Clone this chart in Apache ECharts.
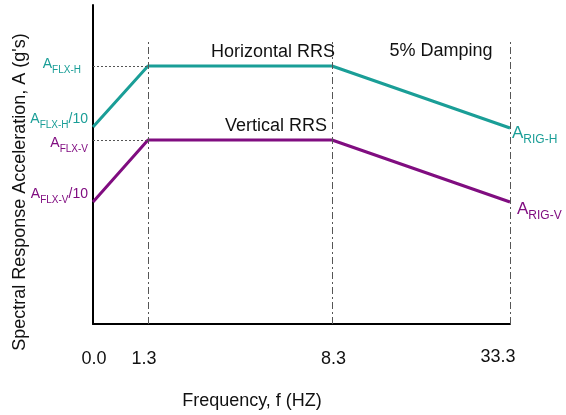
<!DOCTYPE html>
<html>
<head>
<meta charset="utf-8">
<script src="https://cdn.jsdelivr.net/npm/echarts@6/dist/echarts.min.js"></script>
<style>html,body{margin:0;padding:0;background:#fff}#c{width:566px;height:415px}</style>
</head>
<body>
<div id="c"></div>
<script>
// Frequency tick labels and their schematic positions along the (non-linear) axis
const freqLabels = ['0.0', '1.3', '8.3', '33.3'];
const xPos = [0, 55, 239, 417];
// Spectral acceleration curves (schematic units)
const horizontal = [197, 258, 258, 196];
const vertical = [122, 184, 184, 122];
// Y level labels
const yLevels = [258, 197, 184, 122];
const yLevelNames = [['A', 'FLX-H', ''], ['A', 'FLX-H', '/10'], ['A', 'FLX-V', ''], ['A', 'FLX-V', '/10']];
const yLevelSeries = ['h', 'h', 'v', 'v'];
const dashTop = 282;
const yMax = 319;

const TEAL = '#1a9e97';
const PURPLE = '#800d80';
const FONT = 'Liberation Sans, Arial, sans-serif';

const rich = {
  ah: { color: TEAL, fontSize: 14, fontFamily: FONT, lineHeight: 20, verticalAlign: 'bottom' },
  sh: { color: TEAL, fontSize: 10, fontFamily: FONT, lineHeight: 20, verticalAlign: 'bottom', padding: [0, 0, -4, 0] },
  av: { color: PURPLE, fontSize: 14, fontFamily: FONT, lineHeight: 20, verticalAlign: 'bottom' },
  sv: { color: PURPLE, fontSize: 10, fontFamily: FONT, lineHeight: 20, verticalAlign: 'bottom', padding: [0, 0, -4, 0] },
  bh: { color: TEAL, fontSize: 17, fontFamily: FONT, lineHeight: 22, verticalAlign: 'bottom' },
  ch: { color: TEAL, fontSize: 12, fontFamily: FONT, lineHeight: 22, verticalAlign: 'bottom', padding: [0, 0, -4, 0] },
  bv: { color: PURPLE, fontSize: 17, fontFamily: FONT, lineHeight: 22, verticalAlign: 'bottom' },
  cv: { color: PURPLE, fontSize: 12, fontFamily: FONT, lineHeight: 22, verticalAlign: 'bottom', padding: [0, 0, -4, 0] },
  g10: { fontSize: 4, lineHeight: 10 },
  g22: { fontSize: 4, lineHeight: 22 },
  sp: { fontSize: 4, width: 7 }
};
// per-label layout tweaks for the y labels (gap below shifts the label up)
const yLabelGap = ['g10', 'g22', '', 'g22'];
const yLabelPad = [true, false, false, false];

const tickRich = {
  t0: { fontSize: 18, fontFamily: FONT, color: '#111', lineHeight: 18, padding: [12, 0, 0, 2] },
  t1: { fontSize: 18, fontFamily: FONT, color: '#111', lineHeight: 18, padding: [12, 8, 0, 0] },
  t2: { fontSize: 18, fontFamily: FONT, color: '#111', lineHeight: 18, padding: [12, 0, 0, 3] },
  t3: { fontSize: 18, fontFamily: FONT, color: '#111', lineHeight: 18, padding: [8, 24, 0, 0] }
};

function pts(ys) { return ys.map((y, i) => [xPos[i], y]); }

const chart = echarts.init(document.getElementById('c'), null, { renderer: 'canvas' });
chart.setOption({
  animation: false,
  backgroundColor: '#fff',
  grid: { left: 93, right: 56, top: 5, bottom: 91 },
  xAxis: {
    type: 'value', min: 0, max: xPos[xPos.length - 1],
    splitLine: { show: false },
    axisLine: { lineStyle: { color: '#000', width: 2 } },
    axisTick: { show: false },
    axisLabel: {
      customValues: xPos,
      margin: 20,
      verticalAlign: 'top',
      rich: tickRich,
      formatter: v => {
        const i = xPos.indexOf(v);
        return i < 0 ? '' : '{t' + i + '|' + freqLabels[i] + '}';
      }
    }
  },
  yAxis: {
    type: 'value', min: 0, max: yMax,
    splitLine: { show: false },
    axisLine: { show: true, lineStyle: { color: '#000', width: 2 } },
    axisTick: { show: false },
    axisLabel: {
      customValues: yLevels,
      margin: 5,
      rich: rich,
      formatter: v => {
        const i = yLevels.indexOf(v);
        if (i < 0) return '';
        const s = yLevelSeries[i];
        const n = yLevelNames[i];
        let t = '{a' + s + '|' + n[0] + '}{s' + s + '|' + n[1] + '}' + (n[2] ? '{a' + s + '|' + n[2] + '}' : '');
        if (yLabelPad[i]) t += '{sp| }';
        if (yLabelGap[i]) t += '\n{' + yLabelGap[i] + '| }';
        return t;
      }
    }
  },
  graphic: [
    { type: 'text', x: 20, y: 192, rotation: Math.PI / 2,
      style: { text: "Spectral Response Acceleration, A (g's)", fill: '#111', font: '18px ' + FONT, textAlign: 'center', textVerticalAlign: 'middle' } },
    { type: 'text', x: 252, y: 401,
      style: { text: 'Frequency, f (HZ)', fill: '#111', font: '18px ' + FONT, textAlign: 'center', textVerticalAlign: 'middle' } },
    { type: 'text', x: 441, y: 51,
      style: { text: '5% Damping', fill: '#111', font: '18px ' + FONT, textAlign: 'center', textVerticalAlign: 'middle' } }
  ],
  series: [
    {
      type: 'line', data: pts(horizontal), symbol: 'none',
      lineStyle: { color: TEAL, width: 3 },
      endLabel: {
        show: true, distance: 2, offset: [0, 3],
        formatter: '{bh|A}{ch|RIG-H}', rich: rich
      },
      markPoint: {
        symbol: 'circle', symbolSize: 0,
        data: [{ coord: [xPos[2], horizontal[2]] }],
        label: { show: true, formatter: 'Horizontal RRS', position: 'top', align: 'right', distance: 5, offset: [3, 0], color: '#111', fontSize: 18, fontFamily: FONT }
      },
      markLine: {
        silent: true, symbol: 'none', label: { show: false },
        lineStyle: { color: '#555', type: [2, 2], width: 1 },
        data: [
          [{ coord: [xPos[0], horizontal[1]] }, { coord: [xPos[1], horizontal[1]] }],
          [{ coord: [xPos[0], vertical[1]] }, { coord: [xPos[1], vertical[1]] }]
        ]
      },
      z: 3
    },
    {
      type: 'line', data: pts(vertical), symbol: 'none',
      lineStyle: { color: PURPLE, width: 3 },
      endLabel: {
        show: true, distance: 7, offset: [0, 5],
        formatter: '{bv|A}{cv|RIG-V}', rich: rich
      },
      markPoint: {
        symbol: 'circle', symbolSize: 0,
        data: [{ coord: [xPos[2], vertical[2]] }],
        label: { show: true, formatter: 'Vertical RRS', position: 'top', align: 'right', distance: 5, offset: [-5, 0], color: '#111', fontSize: 18, fontFamily: FONT }
      },
      markLine: {
        silent: true, symbol: 'none', label: { show: false },
        lineStyle: { color: '#555', type: [7, 3, 2, 3], width: 1 },
        data: xPos.slice(1).map(x => [{ coord: [x, 0] }, { coord: [x, dashTop] }])
      },
      z: 3
    }
  ]
});
</script>
</body>
</html>
